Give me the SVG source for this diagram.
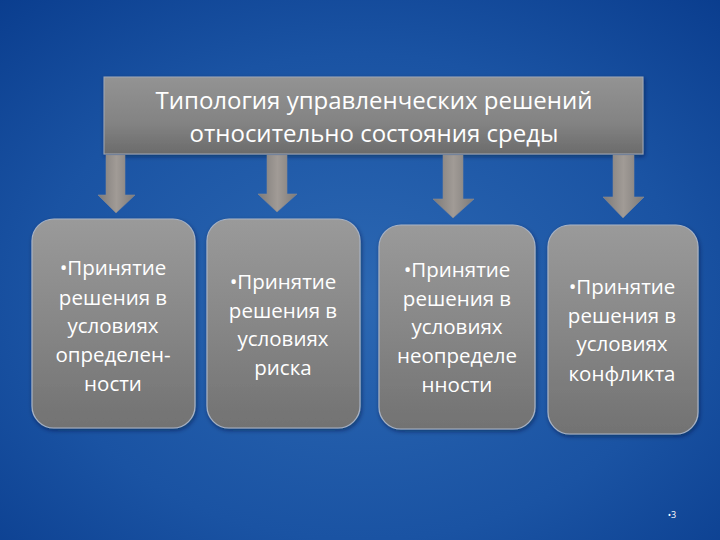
<svg xmlns="http://www.w3.org/2000/svg" width="720" height="540" viewBox="0 0 720 540">
<defs>
<radialGradient id="bg" cx="0.5" cy="0.55" r="0.75">
<stop offset="0" stop-color="#2c68b3"/>
<stop offset="0.6" stop-color="#1a53a3"/>
<stop offset="1" stop-color="#0a3d8e"/>
</radialGradient>
<linearGradient id="boxg" x1="0" y1="0" x2="0" y2="1">
<stop offset="0" stop-color="#9a9a9a"/>
<stop offset="0.5" stop-color="#878787"/>
<stop offset="1" stop-color="#727272"/>
</linearGradient>
<linearGradient id="topg" x1="0" y1="0" x2="0" y2="1">
<stop offset="0" stop-color="#939393"/>
<stop offset="0.6" stop-color="#838383"/>
<stop offset="1" stop-color="#6b6b6b"/>
</linearGradient>
<linearGradient id="arg" x1="0" y1="0" x2="1" y2="0">
<stop offset="0" stop-color="#7d7a78"/>
<stop offset="0.5" stop-color="#a19b96"/>
<stop offset="1" stop-color="#7d7a78"/>
</linearGradient>
<filter id="sh" x="-10%" y="-10%" width="120%" height="120%">
<feDropShadow dx="1" dy="2" stdDeviation="2" flood-color="#001030" flood-opacity="0.5"/>
</filter>
</defs>
<style>
.box{fill:url(#boxg);stroke:#a9b3c4;stroke-width:1.2;filter:url(#sh)}
.top{fill:url(#topg);stroke:#a0a8b6;stroke-width:1;filter:url(#sh)}
.arr{fill:url(#arg);stroke:#8a8a90;stroke-width:0.6}
.t{font-family:"Open Sans","Liberation Sans",sans-serif;fill:#ffffff;text-anchor:middle}
.tt{font-size:24px}
.bt{font-size:20.5px}
</style>
<rect width="720" height="540" fill="url(#bg)"/>
<g id="title">
<rect class="top" x="104" y="77" width="539" height="77"/>
<text class="t tt" x="374" y="109">Типология управленческих решений</text>
<text class="t tt" x="374" y="142">относительно состояния среды</text>
</g>
<g id="connectors">
<path class="arr" d="M106,155 H125 V195 H135 L116,213 L98,195 H106 Z"/>
<path class="arr" d="M267,155 H287 V194 H297 L277,212 L258,194 H267 Z"/>
<path class="arr" d="M443,155 H463 V199 H474 L453,218 L433,199 H443 Z"/>
<path class="arr" d="M613,155 H634 V197 H644 L623,218 L603,197 H613 Z"/>
</g>
<g id="n1">
<rect class="box" x="32" y="219" width="163" height="209" rx="22"/>
<text class="t bt" x="113" y="275">•Принятие</text>
<text class="t bt" x="113" y="305">решения в</text>
<text class="t bt" x="113" y="333">условиях</text>
<text class="t bt" x="113" y="362">определен-</text>
<text class="t bt" x="113" y="391">ности</text>
</g>
<g id="n2">
<rect class="box" x="207" y="219" width="153" height="209" rx="22"/>
<text class="t bt" x="283" y="289">•Принятие</text>
<text class="t bt" x="283" y="318">решения в</text>
<text class="t bt" x="283" y="346">условиях</text>
<text class="t bt" x="283" y="375">риска</text>
</g>
<g id="n3">
<rect class="box" x="379" y="225" width="156" height="204" rx="22"/>
<text class="t bt" x="457" y="277">•Принятие</text>
<text class="t bt" x="457" y="306">решения в</text>
<text class="t bt" x="457" y="334">условиях</text>
<text class="t bt" x="457" y="363">неопределе</text>
<text class="t bt" x="457" y="392">нности</text>
</g>
<g id="n4">
<rect class="box" x="548" y="225" width="150" height="209" rx="22"/>
<text class="t bt" x="622" y="294">•Принятие</text>
<text class="t bt" x="622" y="323">решения в</text>
<text class="t bt" x="622" y="351">условиях</text>
<text class="t bt" x="622" y="381">конфликта</text>
</g>
<text class="t" x="672" y="518" font-size="9">•3</text>
</svg>
